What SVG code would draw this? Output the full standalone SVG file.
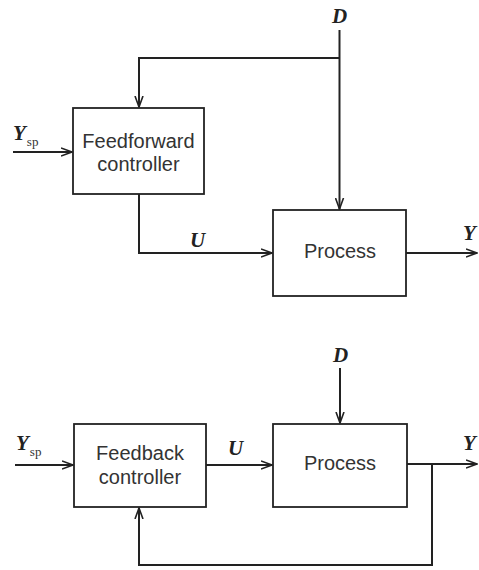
<svg xmlns="http://www.w3.org/2000/svg" width="479" height="570" viewBox="0 0 479 570">
<style>
.box{fill:#fff;stroke:#222;stroke-width:1.8}
.ln{fill:none;stroke:#222;stroke-width:2}
.t{font-family:"Liberation Sans",Arial,sans-serif;font-size:20px;fill:#333;text-anchor:middle}
.v{font-family:"Liberation Serif","Times New Roman",serif;font-style:italic;font-weight:bold;font-size:21px;fill:#222}
.s{font-family:"Liberation Serif","Times New Roman",serif;font-size:13px;fill:#333}
</style>
<defs>
<marker id="ar" viewBox="0 0 12 10" refX="11" refY="5" markerWidth="12" markerHeight="10" orient="auto" markerUnits="userSpaceOnUse">
<path d="M0,1 L11,5 L0,9" fill="none" stroke="#222" stroke-width="1.6"/>
</marker>
</defs>
<rect width="479" height="570" fill="#fff"/>
<g id="connectors">
<path class="ln" d="M339.5,30 V209" marker-end="url(#ar)"/>
<path class="ln" d="M339.5,58 H139 V107" marker-end="url(#ar)"/>
<path class="ln" d="M13,152 H72" marker-end="url(#ar)"/>
<path class="ln" d="M139,194 V253 H272" marker-end="url(#ar)"/>
<path class="ln" d="M406,253 H477" marker-end="url(#ar)"/>
<path class="ln" d="M340,368 V423" marker-end="url(#ar)"/>
<path class="ln" d="M15,465 H73" marker-end="url(#ar)"/>
<path class="ln" d="M206,465 H272" marker-end="url(#ar)"/>
<path class="ln" d="M407,464 H477" marker-end="url(#ar)"/>
<path class="ln" d="M432,464 V565 H139 V508" marker-end="url(#ar)"/>
</g>
<g id="ff-controller">
<rect class="box" x="73" y="108" width="131" height="86"/>
<text class="t" x="138.5" y="148">Feedforward</text>
<text class="t" x="138.5" y="171">controller</text>
</g>
<g id="process-top">
<rect class="box" x="273" y="210" width="133" height="86"/>
<text class="t" x="340" y="258">Process</text>
</g>
<g id="fb-controller">
<rect class="box" x="74" y="424" width="132" height="83"/>
<text class="t" x="140" y="460">Feedback</text>
<text class="t" x="140" y="484">controller</text>
</g>
<g id="process-bottom">
<rect class="box" x="273" y="424" width="134" height="83"/>
<text class="t" x="340" y="470">Process</text>
</g>
<g id="labels">
<text class="v" x="332" y="23">D</text>
<text class="v" x="13" y="140">Y<tspan class="s" font-style="normal" font-weight="normal" dx="1" dy="6">sp</tspan></text>
<text class="v" x="190" y="247">U</text>
<text class="v" x="463" y="240">Y</text>
<text class="v" x="333" y="362">D</text>
<text class="v" x="16" y="450">Y<tspan class="s" font-style="normal" font-weight="normal" dx="1" dy="6">sp</tspan></text>
<text class="v" x="228" y="455">U</text>
<text class="v" x="463" y="450">Y</text>
</g>
</svg>
